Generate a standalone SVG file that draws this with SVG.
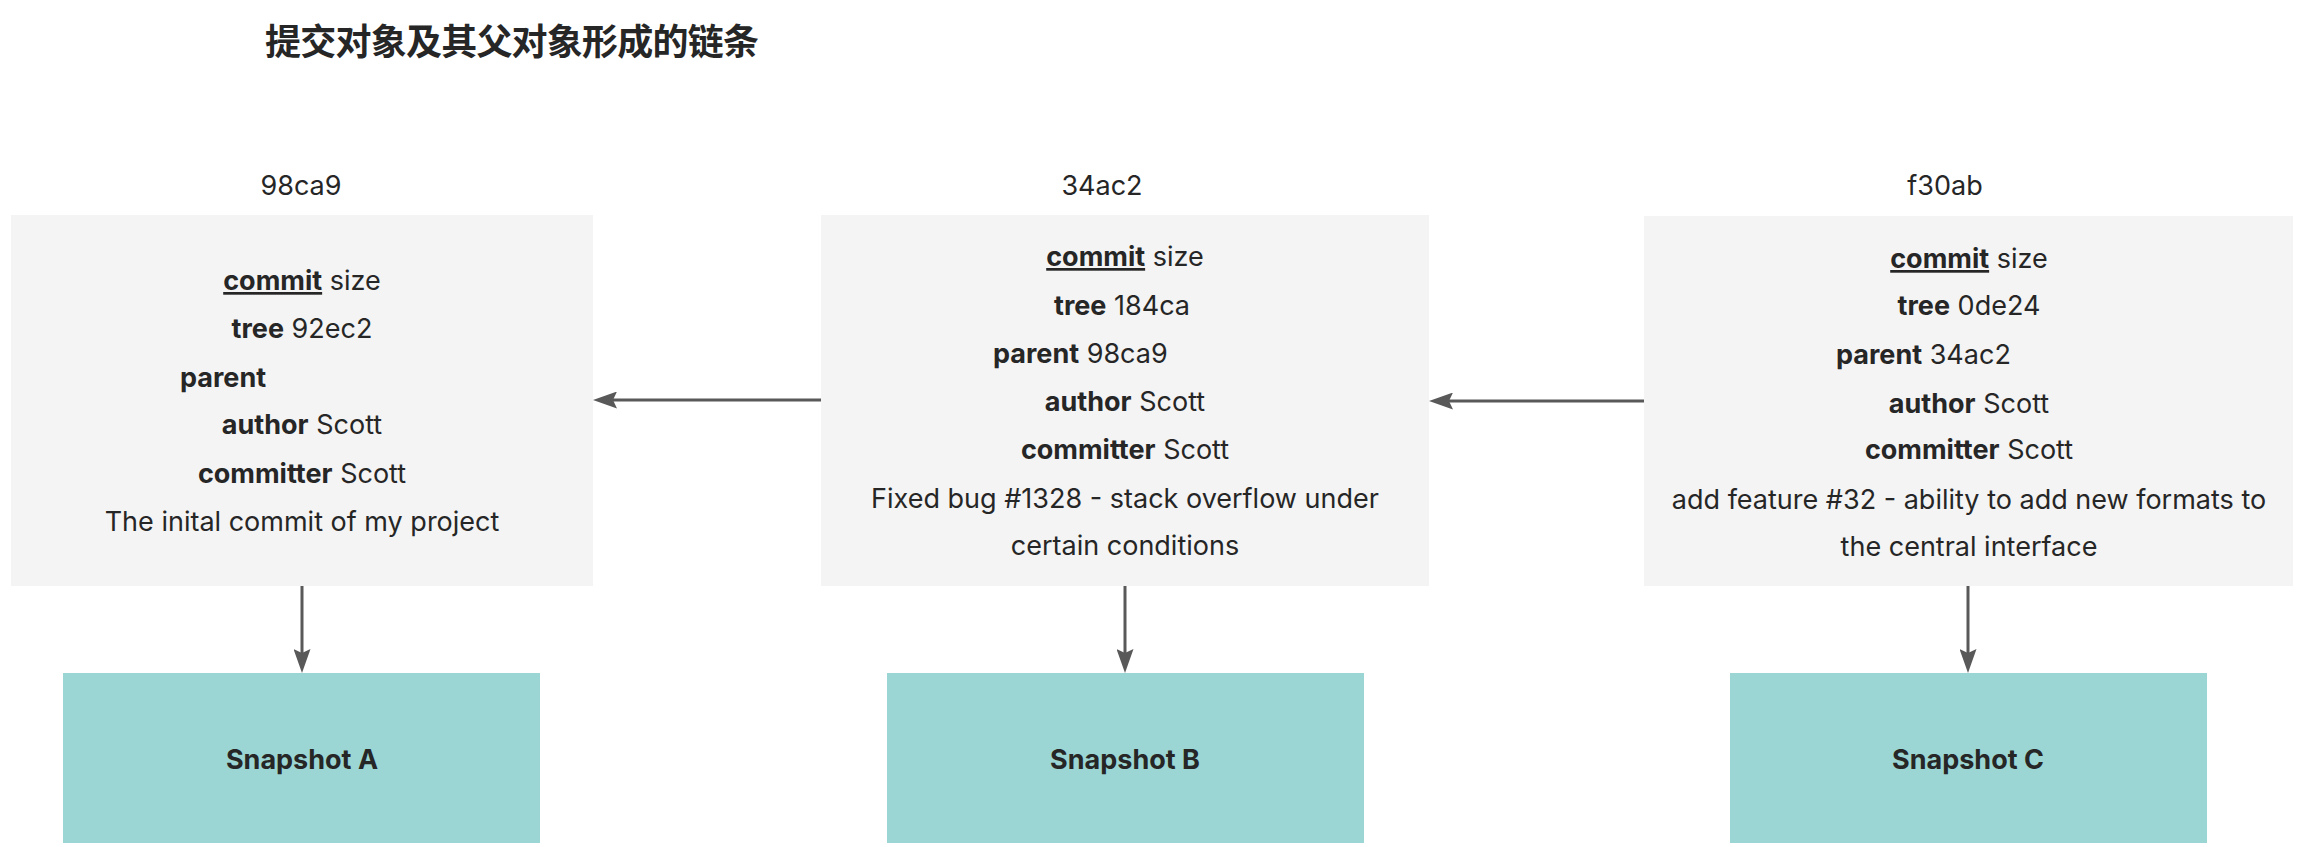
<svg xmlns="http://www.w3.org/2000/svg" width="2303" height="847" viewBox="0 0 2303 847">
<style>
.title{font-family:"Noto Sans CJK SC","Noto Sans",sans-serif;font-weight:700;font-size:36px;fill:#262626}
.lbl{font-family:"Inter","Liberation Sans",sans-serif;font-size:27px;fill:#262626;text-anchor:middle}
.t{font-family:"Inter","Liberation Sans",sans-serif;font-size:27px;fill:#262626;text-anchor:middle}
.ts{font-family:"Inter","Liberation Sans",sans-serif;font-size:27px;fill:#262626;text-anchor:start}
.b{font-weight:700}
.u{font-weight:700;text-decoration:underline}
.box{fill:#f4f4f4}
.snap{fill:#9bd6d4}
.snapt{font-family:"Inter","Liberation Sans",sans-serif;font-size:27px;font-weight:700;fill:#262626;text-anchor:middle}
.conn{stroke:#595959;stroke-width:3;fill:none;marker-end:url(#ah)}
</style>
<defs>
<marker id="ah" viewBox="0 0 24 17" refX="4" refY="8.5" markerWidth="24" markerHeight="17" markerUnits="userSpaceOnUse" orient="auto">
<path d="M0,0 L24,8.5 L0,17 L4,8.5 z" fill="#595959"/>
</marker>
</defs>
<rect width="2303" height="847" fill="#ffffff"/>
<text class="title" x="265" y="55" textLength="494" lengthAdjust="spacing">提交对象及其父对象形成的链条</text>

<g id="commit-98ca9">
<text class="lbl" x="301" y="195">98ca9</text>
<rect class="box" x="11" y="215" width="582" height="371"/>
<text class="t" x="302" y="290"><tspan class="u">commit</tspan> size</text>
<text class="t" x="302" y="338"><tspan class="b">tree</tspan> 92ec2</text>
<text class="ts" x="180" y="387"><tspan class="b">parent</tspan></text>
<text class="t" x="302" y="434"><tspan class="b">author</tspan> Scott</text>
<text class="t" x="302" y="483"><tspan class="b">committer</tspan> Scott</text>
<text class="t" x="302" y="531">The inital commit of my project</text>
</g>

<g id="commit-34ac2">
<text class="lbl" x="1102" y="195">34ac2</text>
<rect class="box" x="821" y="215" width="608" height="371"/>
<text class="t" x="1125" y="266"><tspan class="u">commit</tspan> size</text>
<text class="t" x="1122" y="315"><tspan class="b">tree</tspan> 184ca</text>
<text class="ts" x="993" y="363"><tspan class="b">parent</tspan> 98ca9</text>
<text class="t" x="1125" y="411"><tspan class="b">author</tspan> Scott</text>
<text class="t" x="1125" y="459"><tspan class="b">committer</tspan> Scott</text>
<text class="t" x="1125" y="508">Fixed bug #1328 - stack overflow under</text>
<text class="t" x="1125" y="555">certain conditions</text>
</g>

<g id="commit-f30ab">
<text class="lbl" x="1945" y="195">f30ab</text>
<rect class="box" x="1644" y="216" width="649" height="370"/>
<text class="t" x="1969" y="268"><tspan class="u">commit</tspan> size</text>
<text class="t" x="1969" y="315"><tspan class="b">tree</tspan> 0de24</text>
<text class="ts" x="1836" y="364"><tspan class="b">parent</tspan> 34ac2</text>
<text class="t" x="1969" y="413"><tspan class="b">author</tspan> Scott</text>
<text class="t" x="1969" y="459"><tspan class="b">committer</tspan> Scott</text>
<text class="t" x="1969" y="509">add feature #32 - ability to add new formats to</text>
<text class="t" x="1969" y="556">the central interface</text>
</g>

<g id="snapshot-a">
<rect class="snap" x="63" y="673" width="477" height="170"/>
<text class="snapt" x="302" y="769">Snapshot A</text>
</g>
<g id="snapshot-b">
<rect class="snap" x="887" y="673" width="477" height="170"/>
<text class="snapt" x="1125" y="769">Snapshot B</text>
</g>
<g id="snapshot-c">
<rect class="snap" x="1730" y="673" width="477" height="170"/>
<text class="snapt" x="1968" y="769">Snapshot C</text>
</g>

<g id="connectors">
<line class="conn" x1="821" y1="400" x2="613" y2="400"/>
<line class="conn" x1="1644" y1="401" x2="1449" y2="401"/>
<line class="conn" x1="302" y1="586" x2="302" y2="653"/>
<line class="conn" x1="1125" y1="586" x2="1125" y2="653"/>
<line class="conn" x1="1968" y1="586" x2="1968" y2="653"/>
</g>
</svg>
